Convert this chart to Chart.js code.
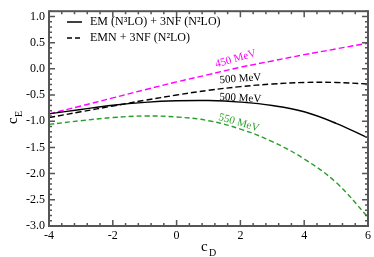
<!DOCTYPE html>
<html>
<head>
<meta charset="utf-8">
<script src="https://cdn.jsdelivr.net/npm/chart.js@4.4.0/dist/chart.umd.min.js"></script>
<style>
  body { margin: 0; background: #fff; }
  #wrap { width: 374px; height: 257px; }
</style>
</head>
<body>
<div id="wrap"><canvas id="cECanvas" width="374" height="257"></canvas></div>
<script>
// c_D values (x axis)
var cD = [-4, -3, -2, -1, 0, 1, 2, 3, 4, 5, 6];

// c_E curves
var em500 = [-0.86, -0.775, -0.695, -0.64, -0.61, -0.605, -0.635, -0.70, -0.82, -1.04, -1.32];
var emn450 = [-0.86, -0.71, -0.555, -0.40, -0.25, -0.11, 0.03, 0.15, 0.27, 0.38, 0.49];
var emn500 = [-0.93, -0.82, -0.71, -0.60, -0.50, -0.41, -0.34, -0.29, -0.26, -0.26, -0.29];
var emn550 = [-1.06, -0.99, -0.93, -0.90, -0.92, -0.99, -1.15, -1.39, -1.72, -2.17, -2.83];

var xTicks = [-4, -2, 0, 2, 4, 6];
var yTicks = [-3.0, -2.5, -2.0, -1.5, -1.0, -0.5, 0.0, 0.5, 1.0];

var SERIF = '"Liberation Serif", "DejaVu Serif", serif';
var GREEN = '#2a9d2a';
var MAGENTA = '#ff00ff';

function pts(ys) {
  return cD.map(function (x, i) { return { x: x, y: ys[i] }; });
}

// frame, inward ticks, legend, curve labels and axis titles
var decorations = {
  id: 'decorations',
  afterDraw: function (chart) {
    var ctx = chart.ctx;
    var a = chart.chartArea;
    var xs = chart.scales.x, ys = chart.scales.y;
    ctx.save();

    // ticks
    ctx.strokeStyle = '#555';
    ctx.lineWidth = 1.5;
    ctx.beginPath();
    var v, p, len;
    for (v = -4; v <= 6.001; v += 0.4) {
      p = xs.getPixelForValue(v);
      var major = Math.abs(v / 2 - Math.round(v / 2)) < 0.01;
      len = major ? 6 : 3;
      ctx.moveTo(p, a.bottom); ctx.lineTo(p, a.bottom - len);
      ctx.moveTo(p, a.top); ctx.lineTo(p, a.top + len);
    }
    for (v = -3; v <= 1.101; v += 0.1) {
      p = ys.getPixelForValue(v);
      var majorY = Math.abs(v / 0.5 - Math.round(v / 0.5)) < 0.01;
      len = majorY ? 6 : 3;
      ctx.moveTo(a.left, p); ctx.lineTo(a.left + len, p);
      ctx.moveTo(a.right, p); ctx.lineTo(a.right - len, p);
    }
    ctx.stroke();

    // frame
    ctx.lineWidth = 2;
    ctx.strokeRect(a.left, a.top, a.right - a.left, a.bottom - a.top);

    // legend
    ctx.lineWidth = 1.5;
    ctx.strokeStyle = '#000';
    ctx.setLineDash([]);
    ctx.beginPath(); ctx.moveTo(67, 22); ctx.lineTo(82, 22); ctx.stroke();
    ctx.setLineDash([5, 3]);
    ctx.beginPath(); ctx.moveTo(67, 38); ctx.lineTo(83, 38); ctx.stroke();
    ctx.setLineDash([]);
    ctx.fillStyle = '#000';
    ctx.font = '12px ' + SERIF;
    ctx.textBaseline = 'middle';
    ctx.textAlign = 'left';
    ctx.fillText('EM (N\u00B3LO) + 3NF (N\u00B2LO)', 90, 22);
    ctx.fillText('EMN + 3NF (N\u00B2LO)', 90, 38);

    // curve labels
    function label(text, x, y, angle, color) {
      ctx.save();
      ctx.translate(xs.getPixelForValue(x), ys.getPixelForValue(y));
      ctx.rotate(angle * Math.PI / 180);
      ctx.fillStyle = color;
      ctx.font = '11px ' + SERIF;
      ctx.textAlign = 'center';
      ctx.textBaseline = 'middle';
      ctx.fillText(text, 0, 0);
      ctx.restore();
    }
    label('450 MeV', 1.85, 0.19, -16, MAGENTA);
    label('500 MeV', 2.0, -0.19, -4, '#000');
    label('500 MeV', 2.0, -0.56, 3, '#000');
    label('550 MeV', 1.95, -1.03, 16, GREEN);

    // axis titles
    ctx.fillStyle = '#000';
    ctx.textAlign = 'left';
    ctx.textBaseline = 'alphabetic';
    ctx.font = '15px ' + SERIF;
    ctx.fillText('c', 201, 251);
    ctx.font = '10px ' + SERIF;
    ctx.fillText('D', 209, 256);

    ctx.save();
    ctx.translate(17, 124);
    ctx.rotate(-Math.PI / 2);
    ctx.font = '15px ' + SERIF;
    ctx.fillText('c', 0, 0);
    ctx.font = '10px ' + SERIF;
    ctx.fillText('E', 7, 5);
    ctx.restore();

    ctx.restore();
  }
};

var ctx = document.getElementById('cECanvas').getContext('2d');
var chart = new Chart(ctx, {
  type: 'line',
  data: {
    datasets: [
      { label: 'EM 500', data: pts(em500), borderColor: '#000', borderWidth: 1.4 },
      { label: 'EMN 450', data: pts(emn450), borderColor: MAGENTA, borderWidth: 1.4, borderDash: [6, 3] },
      { label: 'EMN 500', data: pts(emn500), borderColor: '#000', borderWidth: 1.4, borderDash: [6, 3] },
      { label: 'EMN 550', data: pts(emn550), borderColor: GREEN, borderWidth: 1.4, borderDash: [5, 3] }
    ]
  },
  options: {
    responsive: false,
    animation: false,
    events: [],
    layout: { padding: { top: 1, right: 4, left: 0, bottom: 0 } },
    elements: {
      point: { radius: 0 },
      line: { tension: 0.4, fill: false }
    },
    plugins: {
      legend: { display: false },
      tooltip: { enabled: false }
    },
    scales: {
      x: {
        type: 'linear',
        min: -4,
        max: 6,
        afterFit: function (s) { s.height = 31; },
        afterBuildTicks: function (s) { s.ticks = xTicks.map(function (v) { return { value: v }; }); },
        grid: { display: false, drawTicks: false },
        border: { display: false },
        ticks: {
          padding: 3,
          color: '#000',
          font: { family: SERIF, size: 12 },
          maxRotation: 0,
          callback: function (v) { return String(v); }
        }
      },
      y: {
        min: -3,
        max: 1.1,
        afterFit: function (s) { s.width = 49; },
        afterBuildTicks: function (s) { s.ticks = yTicks.map(function (v) { return { value: v }; }); },
        grid: { display: false, drawTicks: false },
        border: { display: false },
        ticks: {
          padding: 4,
          color: '#000',
          font: { family: SERIF, size: 12 },
          callback: function (v) { return v.toFixed(1); }
        }
      }
    }
  },
  plugins: [decorations]
});
</script>
</body>
</html>
